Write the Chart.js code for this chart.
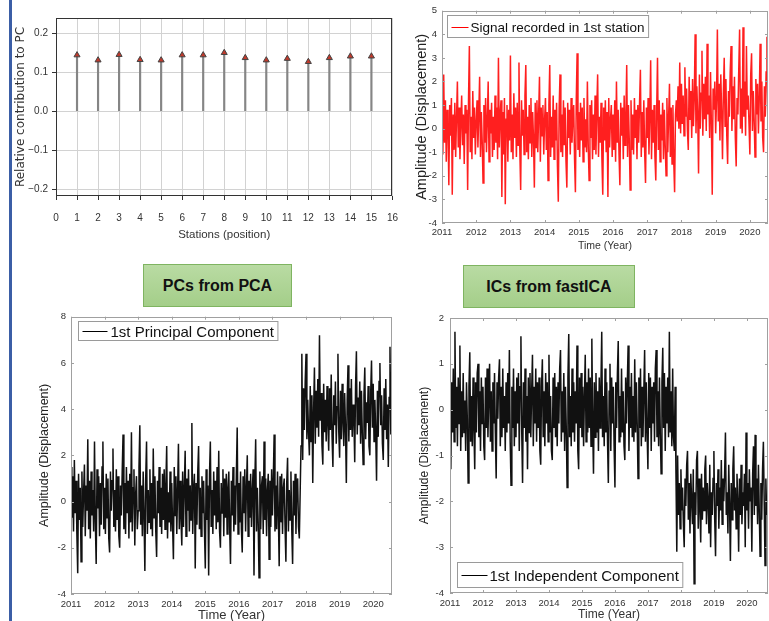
<!DOCTYPE html>
<html>
<head>
<meta charset="utf-8">
<script src="https://cdn.jsdelivr.net/npm/chart.js@4.4.1/dist/chart.umd.min.js"></script>
<style>
html, body { margin: 0; padding: 0; background: #fff; width: 769px; height: 621px; overflow: hidden; }
body { position: relative; }
canvas { position: absolute; }
.sidebar { position: absolute; left: 9px; top: 0; width: 3px; height: 621px; background: #3b5ea6; }
.tag {
    position: absolute; box-sizing: border-box; border: 1px solid #7fb461;
    background: linear-gradient(#b9dba3, #a4ce89);
    font: bold 16px "Liberation Sans", Arial, sans-serif; color: #111;
    display: flex; align-items: center; justify-content: center;
}
</style>
</head>
<body>
<div class="sidebar"></div>
<canvas id="loadings" width="396" height="250" style="left:14px;top:0"></canvas>
<canvas id="station" width="357" height="252" style="left:412px;top:0"></canvas>
<div class="tag" style="left:143px;top:264px;width:149px;height:43px">PCs from PCA</div>
<div class="tag" style="left:463px;top:265px;width:172px;height:43px">ICs from fastICA</div>
<canvas id="pca" width="364" height="324" style="left:30px;top:306px"></canvas>
<canvas id="ica" width="359" height="324" style="left:410px;top:306px"></canvas>

<script>
// Contribution of each station to the 1st PC
const stations = [1, 2, 3, 4, 5, 6, 7, 8, 9, 10, 11, 12, 13, 14, 15];
const loadings = [0.144, 0.131, 0.145, 0.132, 0.131, 0.144, 0.144, 0.150, 0.137, 0.131, 0.135, 0.127, 0.137, 0.141, 0.141];
const stationTicks = [0, 1, 2, 3, 4, 5, 6, 7, 8, 9, 10, 11, 12, 13, 14, 15, 16];
const loadingTicks = [-0.2, -0.1, 0, 0.1, 0.2];

// Time series sampling
const startYear = 2011;
const sampleStep = 0.025;
const yearTicks = [2011, 2012, 2013, 2014, 2015, 2016, 2017, 2018, 2019, 2020];

// Signal recorded in 1st station
const signalValues = [
    0.4, -1.1, 2.3, -0.6, 1.2, -1.4, 0.8, 0.1, -2.4, 1.0,
    -0.3, 1.3, -2.8, 0.6, -0.9, 1.1, -1.2, 0.5, 2.0, -0.8,
    0.9, -1.3, 0.2, 1.4, -0.7, 0.6, -1.5, 1.0, -0.2, 0.8,
    -2.6, 1.2, 3.5, -1.0, 0.5, -1.3, 1.6, -0.4, 0.9, -1.1,
    0.3, 1.2, -0.8, 0.6, 2.2, -1.2, 0.7, -0.5, -2.3, 1.0,
    -0.6, 1.3, -1.0, 0.4, 2.0, -1.4, 0.8, -0.2, 1.1, -1.2,
    0.5, -0.9, 1.4, -0.6, 0.9, -1.3, 3.0, -0.8, 0.6, 1.2,
    -2.9, 0.7, -1.1, 1.3, -3.2, 0.4, 1.0, -1.4, 0.8, -0.5,
    3.1, -1.0, 0.6, -1.3, 1.5, -0.4, 0.9, -1.2, 1.1, -0.7,
    2.8, -0.9, -2.6, 1.2, -0.3, 0.8, -1.1, 1.4, 2.7, -1.0,
    0.5, -1.3, 1.0, -0.6, 1.3, -1.2, 0.7, -0.4, -2.5, 1.1,
    -0.8, 1.2, -1.0, 0.6, 2.2, -1.4, 0.9, -0.3, 1.0, -1.1,
    0.4, 1.3, -0.9, 0.7, -2.2, 1.0, 2.7, -1.2, 0.5, -0.8,
    1.4, -1.3, 0.8, -0.5, 1.1, -1.6, -3.1, 0.9, 2.3, -1.0,
    0.6, -1.2, 1.2, -0.7, 0.9, -1.4, -2.5, 1.1, -0.4, 0.8,
    -1.1, 1.3, -0.6, 0.5, 1.0, -1.3, -2.7, 1.2, 3.2, -0.9,
    0.7, -1.2, 1.1, -0.5, 0.9, -1.4, 1.3, -0.8, 0.4, -1.0,
    2.0, -0.7, -2.2, 1.0, -0.4, 1.2, -1.3, 0.6, -0.9, 1.4,
    -1.1, 0.8, 2.3, -1.2, 0.5, -0.6, 1.1, -1.3, -2.8, 0.9,
    -0.5, 1.2, -1.0, 0.7, -2.9, 1.3, -0.8, 0.4, 1.0, -1.2,
    0.6, -0.9, 1.2, -1.4, 2.0, -0.6, 0.8, -1.1, -2.4, 1.1,
    -0.3, 0.9, -1.3, 1.4, -0.7, 0.5, 2.7, -1.2, 1.0, -0.5,
    -2.6, 1.2, -0.9, 0.6, -1.1, 1.3, -0.4, 0.8, -1.3, 1.0,
    -0.6, 1.1, 2.5, -1.2, 0.7, -0.8, 1.2, -1.0, -2.3, 0.9,
    -0.4, 1.3, -1.1, 0.5, 2.9, -1.3, 0.8, -0.6, 1.0, -1.2,
    -2.2, 0.7, 3.0, -0.9, 1.2, -1.4, 0.6, -0.5, 1.1, -1.3,
    0.8, -0.7, -2.0, 1.3, -1.0, 0.5, 1.9, -1.2, 0.9, -1.5,
    1.0, -1.4, -2.7, 0.6, 1.2, 0.3, 1.8, 0.0, 2.8, -0.2,
    1.9, 0.2, 1.4, -0.3, 2.6, 0.5, 1.7, -0.1, -0.9, 2.2,
    0.4, 1.6, -0.4, 2.1, 0.1, 1.3, 4.0, -0.2, 1.8, 0.6,
    -1.9, 2.3, 0.0, 1.5, 3.3, -0.3, 1.9, 0.4, 2.2, -0.1,
    3.6, 0.6, 1.4, -0.4, 2.4, 0.2, -2.8, 1.7, 0.8, 2.0,
    -0.2, 1.2, 4.2, 0.3, 1.9, -0.5, 2.3, 0.7, -1.3, 1.5,
    3.0, 0.1, 2.1, -0.3, -1.5, 1.6, 0.5, 2.4, 3.5, -0.1,
    1.8, 0.4, 2.2, -0.4, -1.6, 1.3, 0.6, 2.5, 4.2, 0.0,
    1.7, -0.2, 4.3, 0.5, 2.0, -0.3, 3.5, 0.8, 1.4, 0.2,
    -1.1, 2.3, 3.2, -0.1, 1.6, 0.4, -1.2, 2.1, 0.6, 1.9,
    -0.2, 1.3, 3.6, 0.3, 2.0, -0.4, -1.0, 1.8, 0.5, 2.4,
    3.9, 0.1, 1.5, -1.8, 2.2
];

// 1st Principal Component
const pcValues = [
    1.5, -0.7, 1.1, -1.3, 1.8, -0.5, 0.9, -1.4, -3.1, 1.2,
    -0.8, 0.6, -2.6, 1.3, -1.1, 0.4, 1.6, -1.5, 0.7, -0.4,
    2.7, -1.2, 0.9, -1.6, 1.3, -0.6, 0.5, -1.3, 2.6, -0.9,
    -2.7, 1.4, -0.3, 1.1, -1.5, 0.8, -1.0, 1.5, 2.6, -1.2,
    0.6, -1.4, 1.2, -0.7, 1.0, -1.6, -2.2, 1.3, -0.4, 0.9,
    2.3, -1.1, 0.5, -1.3, 1.4, -0.8, 1.1, -1.5, -2.0, 0.7,
    -0.6, 1.3, 2.9, -1.2, 0.8, -1.4, 1.5, -0.5, 0.9, -1.6,
    1.2, -0.9, 3.0, -1.3, 0.6, 1.4, -1.9, 0.3, 1.1, -1.2,
    -0.4, 1.5, 3.3, -1.0, 0.7, -1.5, 1.3, -0.6, -3.0, 1.0,
    2.6, -1.4, 0.5, -0.9, 1.4, -1.2, 0.8, -1.5, 2.3, -0.7,
    1.1, -1.3, -2.4, 0.9, -0.5, 1.5, -1.1, 0.6, -1.4, 1.2,
    -0.8, 1.4, -1.2, 0.7, 2.4, -1.6, 0.4, -0.9, 1.3, -1.3,
    0.8, -1.0, -2.5, 1.5, -0.6, 1.1, -1.4, 0.5, 2.5, -1.2,
    0.9, -0.7, -1.9, 1.3, -1.1, 0.6, 2.2, -1.5, 1.0, -0.4,
    1.4, -1.3, 0.7, -0.8, 3.4, -1.4, 0.5, 1.2, -2.9, 0.8,
    -1.0, 1.3, 2.4, -1.2, 0.6, -1.5, 1.1, -0.5, 0.9, -1.3,
    -2.9, 1.4, -0.8, 0.7, -3.2, 1.2, 2.6, -1.1, 0.5, -1.4,
    1.3, -0.6, 0.9, -1.2, 1.5, -0.9, 2.2, -1.3, -2.0, 0.8,
    -0.5, 1.4, -1.5, 1.0, -0.7, 1.2, -1.4, 0.6, 1.3, -1.1,
    -2.7, 0.9, -0.6, 1.5, -1.3, 0.7, -1.0, 1.2, 3.2, -1.4,
    0.8, -0.9, 1.3, -1.2, -2.2, 1.1, -0.5, 1.4, -1.3, 0.6,
    2.0, -1.5, 0.9, -0.7, 1.2, -1.1, 0.5, 1.4, -3.2, 0.8,
    2.7, -1.3, 0.6, -0.9, -3.3, 1.3, -1.2, 0.7, 1.1, -1.4,
    2.6, -0.8, 1.0, -1.5, 0.5, 1.2, -2.5, 0.9, -1.1, 1.4,
    -0.6, 1.0, 2.9, -1.3, 0.7, -1.2, 1.3, -0.5, -2.8, 1.1,
    -0.9, 1.2, -1.4, 0.6, 1.0, -1.1, -2.6, 0.8, 1.9, -1.3,
    0.5, -0.8, 1.3, -1.2, -2.7, 0.9, -0.6, 1.2, -1.4, 0.7,
    1.0, -1.1, -1.6, 0.4, 2.4, 6.4, 1.8, 4.9, 3.1, 5.2,
    6.4, 2.7, 4.4, 3.0, 2.0, 5.0, 2.6, 4.6, 0.8, 3.9,
    5.8, 2.5, 4.8, 3.2, 5.3, 2.8, 7.2, 3.5, 4.7, 2.4,
    1.6, 5.1, 3.0, 4.4, 2.6, 5.0, 3.4, 2.2, 4.9, 3.1,
    5.5, 2.8, 1.5, 4.6, 3.3, 5.2, 2.5, 4.1, 6.4, 3.0,
    1.9, 4.8, 2.7, 5.1, 3.5, 2.4, 4.7, 3.2, 0.8, 4.4,
    5.9, 2.6, 4.9, 3.1, 5.3, 2.8, 4.2, 3.6, 1.7, 5.0,
    6.5, 2.9, 4.5, 3.3, 5.2, 2.5, 4.8, 3.0, 1.6, 4.6,
    5.8, 2.7, 4.3, 3.4, 5.0, 2.4, 2.0, 4.7, 6.1, 3.2,
    5.1, 2.6, 4.4, 3.0, 0.9, 4.8, 2.8, 5.2, 6.0, 3.3,
    4.6, 2.5, 1.8, 4.9, 3.1, 5.3, 2.7, 4.2, 1.5, 4.5,
    6.7, 2.9, 5.0, 6.3, 3.4
];

// 1st Independent Component
const icValues = [
    0.3, -1.3, 0.6, -0.5, 0.9, -0.7, 1.7, -0.4, 0.5, -0.8,
    0.7, -0.3, 1.4, -0.9, 0.4, -0.6, 0.8, -0.5, 0.2, -0.9,
    0.6, -0.2, -1.6, 0.5, 1.25, -0.7, 0.3, -0.8, 0.7, -0.4,
    -1.3, 0.6, -0.5, 0.8, 1.0, -0.6, 0.4, -0.9, 0.7, -0.3,
    0.5, -0.8, -1.1, 0.7, -0.4, 0.9, -0.6, 0.3, 1.0, -0.7,
    0.4, -0.9, 0.6, -0.3, 0.8, -0.5, -1.5, 0.6, -0.2, 0.7,
    1.1, -0.8, 0.5, -0.6, 0.9, -0.4, 0.3, -0.9, 0.6, -0.5,
    0.8, -0.3, 1.3, -0.7, -1.65, 0.5, -0.4, 0.9, -0.8, 0.4,
    -0.6, 0.7, -0.3, 0.8, -0.9, 0.5, 1.6, -0.5, -1.6, 0.6,
    -0.4, 0.9, -0.7, 0.3, -1.3, 0.7, -0.5, 0.8, -0.6, 0.4,
    1.2, -0.8, 0.5, -0.3, 0.9, -0.7, 0.6, -0.4, 0.7, -0.9,
    -1.2, 0.5, 1.1, -0.6, 0.4, -0.8, 0.8, -0.3, 0.6, -0.7,
    1.2, -0.5, 0.3, -0.9, -1.1, 0.7, -0.4, 0.8, -0.6, 0.5,
    -0.8, 0.6, -0.3, 0.9, 1.3, -0.7, 0.4, -0.5, 0.8, -0.9,
    0.5, -0.4, -1.7, 0.7, 1.65, -0.6, 0.3, -0.8, 0.9, -0.5,
    0.6, -0.7, 0.4, -0.3, 1.4, -0.9, -1.3, 0.7, -0.4, 0.8,
    -0.6, 0.5, -0.8, 0.3, 1.2, -0.7, 0.6, -0.5, 0.9, -0.4,
    0.7, -0.8, 1.55, -0.3, -1.4, 0.6, -0.6, 0.8, -0.5, 0.4,
    -0.9, 0.7, -0.4, 0.5, 1.7, -0.6, 0.3, -0.8, 0.9, -0.5,
    0.6, -0.7, -1.6, 0.4, 1.0, -0.9, 0.7, -0.3, 0.5, -0.8,
    -1.7, 0.6, -0.4, 0.8, 1.5, -0.7, 0.3, -0.6, 0.9, -0.5,
    0.4, -0.8, -1.1, 0.7, -0.3, 0.6, 1.4, -0.9, 0.5, -0.4,
    0.8, -0.6, 0.3, -0.7, 1.1, -0.5, 0.6, -0.3, -1.5, 0.7,
    -0.4, 0.9, -0.8, 0.5, -0.6, 0.4, 1.3, -0.7, 0.6, -0.5,
    -1.3, 0.8, -0.4, 0.7, -0.9, 0.5, -0.3, 0.6, -0.7, 0.9,
    1.3, -0.6, 0.4, -0.8, 0.7, -0.5, -1.4, 0.6, 1.35, -0.4,
    0.8, -0.9, 0.5, -0.3, 0.7, -0.6, 1.7, -0.5, 0.4, -0.8,
    0.9, -0.6, -0.9, 0.5, -1.4, -3.1, -1.0, -2.3, -1.6, -2.6,
    -1.3, -2.2, -1.7, -2.5, -3.0, -1.5, -2.1, -1.2, -0.9, -2.4,
    -1.6, -2.7, -1.4, -2.0, -2.5, -1.3, -3.8, -1.8, -2.3, -1.1,
    -0.9, -2.6, -1.5, -2.1, -2.9, -1.4, -2.4, -1.7, -2.2, -1.3,
    -1.0, -2.5, -1.6, -2.0, -2.7, -1.2, -3.0, -1.8, -2.3, -1.5,
    -0.9, -2.4, -3.2, -1.6, -2.1, -1.3, -2.6, -1.7, -2.2, -1.1,
    -2.5, -1.5, -2.0, -1.4, -0.5, -2.3, -1.8, -2.7, -1.2, -2.1,
    -3.3, -1.6, -2.4, -1.3, -0.8, -2.2, -1.7, -2.6, -1.4, -2.0,
    -3.1, -1.5, -2.3, -1.2, -2.5, -1.8, -2.1, -1.4, -3.0, -0.5,
    -2.2, -1.6, -2.6, -1.3, -2.0, -1.7, -3.1, -1.4, -0.8, -2.3,
    -0.55, -2.1, -1.5, -2.5, -1.2, -2.2, -3.2, -1.6, -2.4, -1.3,
    -0.7, -2.0, -3.4, -1.5, -2.3
];

const signalTicks = [-4, -3, -2, -1, 0, 1, 2, 3, 4, 5];
const pcTicks = [-4, -2, 0, 2, 4, 6, 8];
const icTicks = [-4, -3, -2, -1, 0, 1, 2];

const sansFont = '"Liberation Sans", Arial, sans-serif';
const narrowFont = '"Liberation Sans Narrow", "Liberation Sans", Arial, sans-serif';

Chart.defaults.animation = false;
Chart.defaults.devicePixelRatio = 1;

// Box around the plot area, with MATLAB-style inward ticks
const framePlugin = {
    id: 'frame',
    afterDraw(chart, args, opts) {
        const { ctx, chartArea: a, scales } = chart;
        ctx.save();
        ctx.strokeStyle = opts.color || '#999';
        ctx.lineWidth = 1;
        ctx.strokeRect(Math.round(a.left) + 0.5, Math.round(a.top) + 0.5,
            Math.round(a.width) - 1, Math.round(a.height) - 1);
        if (opts.tickIn) {
            ctx.beginPath();
            scales.x.ticks.forEach(t => {
                const px = Math.round(scales.x.getPixelForValue(t.value)) + 0.5;
                ctx.moveTo(px, a.bottom); ctx.lineTo(px, a.bottom - opts.tickIn);
                ctx.moveTo(px, a.top); ctx.lineTo(px, a.top + opts.tickIn);
            });
            scales.y.ticks.forEach(t => {
                const py = Math.round(scales.y.getPixelForValue(t.value)) + 0.5;
                ctx.moveTo(a.left, py); ctx.lineTo(a.left + opts.tickIn, py);
                ctx.moveTo(a.right, py); ctx.lineTo(a.right - opts.tickIn, py);
            });
            ctx.stroke();
        }
        ctx.restore();
    }
};

// Legend drawn inside the plot area
const legendBoxPlugin = {
    id: 'legendBox',
    afterDraw(chart, args, o) {
        if (!o.text) return;
        const { ctx, chartArea: a } = chart;
        ctx.save();
        ctx.font = o.font;
        const tw = ctx.measureText(o.text).width;
        const w = o.pad + o.sample + o.gap + tw + o.pad;
        const x = Math.round(a.left + o.dx) + 0.5;
        const y = Math.round(o.corner === 'bottom' ? a.bottom - o.dy - o.height : a.top + o.dy) + 0.5;
        ctx.fillStyle = '#fff';
        ctx.fillRect(x, y, w, o.height);
        ctx.strokeStyle = '#9a9a9a';
        ctx.lineWidth = 1;
        ctx.strokeRect(x, y, w, o.height);
        const my = Math.round(y + o.height / 2) + 0.5;
        ctx.strokeStyle = o.color;
        ctx.beginPath();
        ctx.moveTo(x + o.pad, my);
        ctx.lineTo(x + o.pad + o.sample, my);
        ctx.stroke();
        ctx.fillStyle = '#111';
        ctx.textBaseline = 'middle';
        ctx.fillText(o.text, x + o.pad + o.sample + o.gap, my + 1);
        ctx.restore();
    }
};

function toPoints(values) {
    return values.map((v, i) => ({ x: startYear + i * sampleStep, y: v }));
}

function fixedTicks(list) {
    return scale => { scale.ticks = list.map(v => ({ value: v })); };
}

// Stem plot of the station contributions
function createLoadingsChart(canvasId) {
    const ctx = document.getElementById(canvasId).getContext('2d');
    const points = stations.map((s, i) => ({ x: s, y: loadings[i] }));
    return new Chart(ctx, {
        type: 'bar',
        data: {
            datasets: [
                {
                    type: 'scatter',
                    data: points,
                    pointStyle: 'triangle',
                    pointRadius: 3.5,
                    backgroundColor: '#c0392b',
                    borderColor: '#444',
                    borderWidth: 1,
                    order: 0
                },
                {
                    type: 'bar',
                    data: points,
                    backgroundColor: '#858585',
                    barThickness: 1.5,
                    order: 1
                }
            ]
        },
        options: {
            responsive: false,
            events: [],
            layout: { padding: { top: 18, right: 4, left: 0, bottom: 0 } },
            scales: {
                x: {
                    type: 'linear', min: 0, max: 16, offset: false,
                    afterBuildTicks: fixedTicks(stationTicks),
                    afterFit: s => { s.height = 54; },
                    grid: { color: '#d2d2d2', offset: false, tickLength: 4, tickColor: '#333' },
                    border: { display: false },
                    ticks: { color: '#333', padding: 12, font: { family: narrowFont, size: 10 }, maxRotation: 0, autoSkip: false },
                    title: { display: true, text: 'Stations (position)', color: '#333', font: { family: narrowFont, size: 11.5 }, padding: { top: 0, bottom: 8 } }
                },
                y: {
                    min: -0.217, max: 0.239,
                    afterBuildTicks: fixedTicks(loadingTicks),
                    afterFit: s => { s.width = 42; },
                    grid: { color: '#d2d2d2', tickLength: 4, tickColor: '#333' },
                    border: { display: false },
                    ticks: {
                        color: '#333', padding: 4, font: { family: narrowFont, size: 10 },
                        callback: v => v === 0 ? '0.0' : (v < 0 ? '\u2212' : '') + Math.abs(v).toFixed(1)
                    },
                    title: { display: true, text: 'Relative contribution to PC', color: '#333', font: { family: '"DejaVu Sans", sans-serif', size: 12 }, padding: { top: 0, bottom: 0 } }
                }
            },
            plugins: {
                legend: { display: false },
                tooltip: { enabled: false },
                frame: { color: '#333' },
                legendBox: {}
            }
        },
        plugins: [framePlugin, legendBoxPlugin]
    });
}

// Line plot of a displacement time series
function createTimeChart(canvasId, cfg) {
    const ctx = document.getElementById(canvasId).getContext('2d');
    return new Chart(ctx, {
        type: 'line',
        data: {
            datasets: [{
                label: cfg.legend.text,
                data: toPoints(cfg.values),
                borderColor: cfg.color,
                borderWidth: 1.5,
                pointRadius: 0,
                tension: 0
            }]
        },
        options: {
            responsive: false,
            events: [],
            layout: { padding: cfg.padding },
            scales: {
                x: {
                    type: 'linear', min: startYear, max: cfg.xMax,
                    afterBuildTicks: fixedTicks(yearTicks),
                    afterFit: s => { s.height = cfg.xAxisHeight; },
                    grid: { display: false, drawTicks: false },
                    border: { display: false },
                    ticks: { color: '#333', padding: cfg.xTickPad, font: { family: sansFont, size: 9.5 }, maxRotation: 0, autoSkip: false, callback: v => String(v) },
                    title: { display: true, text: 'Time (Year)', color: '#333', font: { family: sansFont, size: cfg.xTitleSize }, padding: { top: 0, bottom: cfg.xTitlePad } }
                },
                y: {
                    min: cfg.yTicks[0], max: cfg.yTicks[cfg.yTicks.length - 1],
                    afterBuildTicks: fixedTicks(cfg.yTicks),
                    afterFit: s => { s.width = cfg.yAxisWidth; },
                    grid: { display: false, drawTicks: false },
                    border: { display: false },
                    ticks: { color: '#333', padding: cfg.yTickPad, font: { family: sansFont, size: 9.5 } },
                    title: { display: true, text: 'Amplitude (Displacement)', color: '#222', font: { family: sansFont, size: cfg.yTitleSize }, padding: { top: cfg.yTitlePad, bottom: 0 } }
                }
            },
            plugins: {
                legend: { display: false },
                tooltip: { enabled: false },
                frame: { color: '#a0a0a0', tickIn: 3 },
                legendBox: cfg.legend
            }
        },
        plugins: [framePlugin, legendBoxPlugin]
    });
}

createLoadingsChart('loadings');

createTimeChart('station', {
    values: signalValues, color: 'rgba(255, 0, 0, 0.88)', yTicks: signalTicks, xMax: 2020.53,
    padding: { top: 9, right: 1, left: 0, bottom: 0 },
    xAxisHeight: 29, xTickPad: 4, xTitleSize: 10.5, xTitlePad: 0,
    yAxisWidth: 30, yTickPad: 5, yTitleSize: 14.5, yTitlePad: 1,
    legend: { text: 'Signal recorded in 1st station', color: '#ff0000', font: '13.5px ' + sansFont,
        corner: 'top', dx: 5, dy: 4, height: 22, pad: 4, sample: 17, gap: 2 }
});

createTimeChart('pca', {
    values: pcValues, color: '#111', yTicks: pcTicks, xMax: 2020.56,
    padding: { top: 10, right: 2, left: 0, bottom: 0 },
    xAxisHeight: 36, xTickPad: 5, xTitleSize: 13, xTitlePad: 7,
    yAxisWidth: 41, yTickPad: 5, yTitleSize: 12.5, yTitlePad: 7.5,
    legend: { text: '1st Principal Component', color: '#000', font: '15px ' + sansFont,
        corner: 'top', dx: 7, dy: 4, height: 19, pad: 4, sample: 25, gap: 3 }
});

createTimeChart('ica', {
    values: icValues, color: '#111', yTicks: icTicks, xMax: 2020.64,
    padding: { top: 12, right: 1, left: 0, bottom: 0 },
    xAxisHeight: 37, xTickPad: 5, xTitleSize: 12, xTitlePad: 7.8,
    yAxisWidth: 40, yTickPad: 6, yTitleSize: 12, yTitlePad: 7.8,
    legend: { text: '1st Independent Component', color: '#000', font: '15px ' + sansFont,
        corner: 'bottom', dx: 7, dy: 6, height: 25, pad: 4, sample: 26, gap: 2 }
});
</script>
</body>
</html>
